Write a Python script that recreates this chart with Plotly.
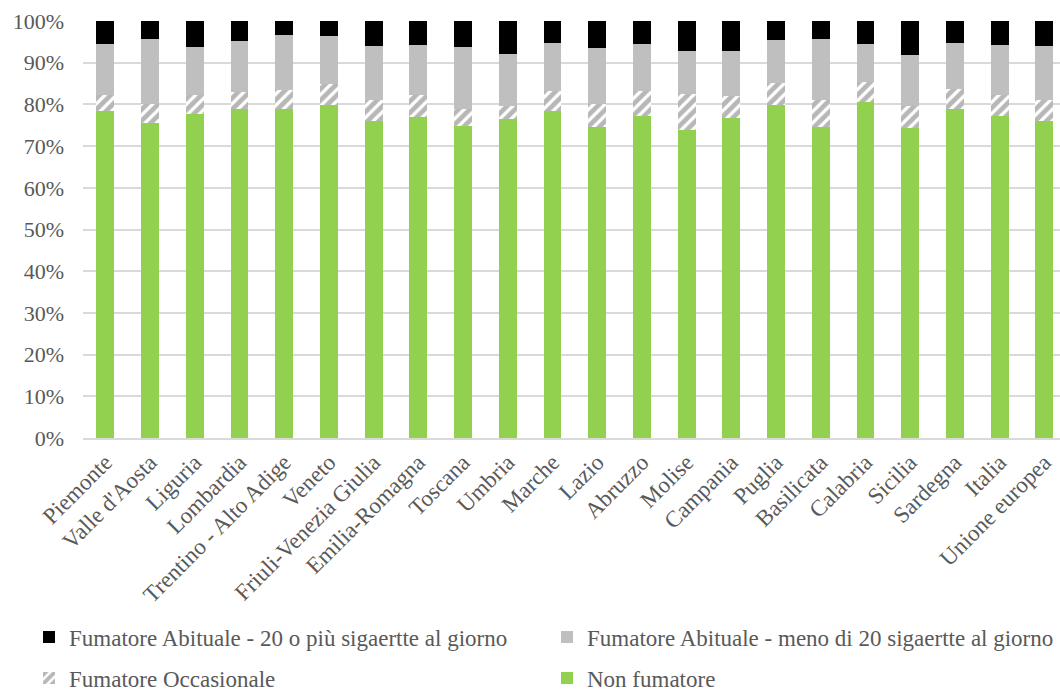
import plotly.graph_objects as go

regioni = ["Piemonte", "Valle d'Aosta", "Liguria", "Lombardia", "Trentino - Alto Adige",
           "Veneto", "Friuli-Venezia Giulia", "Emilia-Romagna", "Toscana", "Umbria",
           "Marche", "Lazio", "Abruzzo", "Molise", "Campania", "Puglia", "Basilicata",
           "Calabria", "Sicilia", "Sardegna", "Italia", "Unione europea"]

# quote percentuali per categoria di fumatore
non_fumatore = [78.3, 75.6, 77.6, 78.8, 79.0, 79.8, 76.0, 76.9, 74.8, 76.6, 78.5,
                74.7, 77.3, 73.8, 76.7, 79.8, 74.5, 80.6, 74.3, 78.9, 77.3, 76.1]
occasionale = [3.9, 4.6, 4.6, 4.2, 4.5, 5.0, 5.0, 5.3, 4.1, 2.9, 4.8,
               5.5, 6.0, 8.7, 5.4, 5.3, 6.5, 4.7, 5.2, 4.9, 4.9, 4.9]
meno_20 = [12.2, 15.6, 11.5, 12.3, 13.1, 11.6, 13.0, 12.1, 14.8, 12.5, 11.4,
           13.3, 11.2, 10.2, 10.6, 10.3, 14.8, 9.2, 12.3, 10.9, 12.0, 12.9]
piu_20 = [5.6, 4.2, 6.3, 4.7, 3.4, 3.6, 6.0, 5.7, 6.3, 8.0, 5.3,
          6.5, 5.5, 7.3, 7.3, 4.6, 4.2, 5.5, 8.2, 5.3, 5.8, 6.1]

y_ticks = [0, 10, 20, 30, 40, 50, 60, 70, 80, 90, 100]
y_labels = [f"{v}%" for v in y_ticks]

FONT = "Liberation Serif"
TXT = "#595959"

fig = go.Figure()
fig.add_bar(x=regioni, y=non_fumatore, name="Non fumatore",
            marker=dict(color="#92d050", line=dict(width=0)), legend="legend4")
fig.add_bar(x=regioni, y=occasionale, name="Fumatore Occasionale",
            marker=dict(color="#ffffff", line=dict(width=0),
                        pattern=dict(shape="/", fgcolor="#707070", bgcolor="#ffffff",
                                     size=8, solidity=0.6)),
            legend="legend3")
fig.add_bar(x=regioni, y=meno_20, name="Fumatore Abituale - meno di 20 sigaertte al giorno",
            marker=dict(color="#bfbfbf", line=dict(width=0)), legend="legend2")
fig.add_bar(x=regioni, y=piu_20, name="Fumatore Abituale - 20 o più sigaertte al giorno",
            marker=dict(color="#000000", line=dict(width=0)), legend="legend")

# one legend box per entry, laid out as a 2x2 grid under the plot
legend_common = dict(orientation="h", xref="container", yref="container",
                     xanchor="left", yanchor="middle",
                     font=dict(family=FONT, size=23, color=TXT),
                     bgcolor="rgba(0,0,0,0)")
col1, col2 = 29 / 1060, 547 / 1060
row1, row2 = 1 - 637 / 691, 1 - 678 / 691

fig.update_layout(
    width=1060, height=691,
    showlegend=True,
    margin=dict(l=83, r=0, t=21, b=253, autoexpand=False),
    barmode="stack", bargap=0.6,
    plot_bgcolor="white", paper_bgcolor="white",
    font=dict(family=FONT, size=22, color=TXT),
    legend=dict(x=col1, y=row1, **legend_common),
    legend2=dict(x=col2, y=row1, **legend_common),
    legend3=dict(x=col1, y=row2, **legend_common),
    legend4=dict(x=col2, y=row2, **legend_common),
    xaxis=dict(range=[-0.5, 21.35], tickangle=-45, showgrid=False, automargin=False,
               showline=True, linecolor="#d9d9d9", linewidth=1.5,
               tickfont=dict(family=FONT, size=23, color=TXT)),
    yaxis=dict(range=[0, 100], tickvals=y_ticks, ticktext=y_labels, automargin=False,
               showgrid=True, gridcolor="#d9d9d9", gridwidth=1.5,
               zeroline=False, ticklabelstandoff=18,
               tickfont=dict(family=FONT, size=22, color=TXT)),
)

fig.write_html("out.html")
